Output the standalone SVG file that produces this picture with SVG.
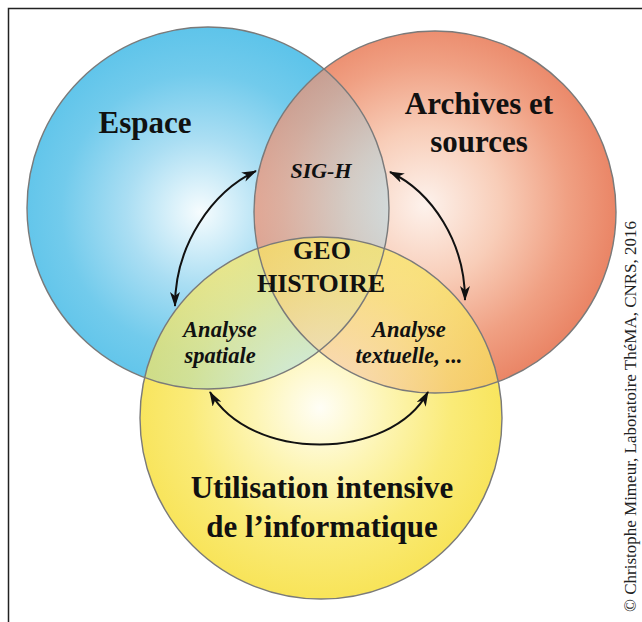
<svg xmlns="http://www.w3.org/2000/svg" width="642" height="622" viewBox="0 0 642 622">
<style>
.lbl{font-family:"Liberation Serif","Times New Roman",serif;font-weight:bold;fill:#111;text-anchor:middle}
.big{font-size:31px}
.mid{font-size:26px}
.it{font-style:italic;font-size:22.5px}
.edge{fill:none;stroke:#7a7a7a;stroke-width:1.4}
.conn{fill:none;stroke:#111;stroke-width:2}
</style>
<defs>
<radialGradient id="gB" gradientUnits="userSpaceOnUse" cx="200" cy="212" r="185">
<stop offset="0" stop-color="#f6fcfe"/>
<stop offset="0.4" stop-color="#aadef3"/>
<stop offset="0.75" stop-color="#72cbec"/>
<stop offset="1" stop-color="#5ec4ea"/>
</radialGradient>
<radialGradient id="gR" gradientUnits="userSpaceOnUse" cx="425" cy="205" r="190">
<stop offset="0" stop-color="#fdf2ec"/>
<stop offset="0.4" stop-color="#f8cdb8"/>
<stop offset="0.75" stop-color="#f0a083"/>
<stop offset="1" stop-color="#ea8667"/>
</radialGradient>
<radialGradient id="gY" gradientUnits="userSpaceOnUse" cx="320" cy="408" r="188">
<stop offset="0" stop-color="#fffef6"/>
<stop offset="0.35" stop-color="#fdf5b4"/>
<stop offset="0.7" stop-color="#faeb78"/>
<stop offset="1" stop-color="#f8e45a"/>
</radialGradient>
<clipPath id="clipB"><circle cx="208" cy="208" r="181"/></clipPath>
<clipPath id="clipBR"><circle cx="208" cy="208" r="181"/><circle cx="435" cy="212" r="181"/></clipPath>
<mask id="notB" maskUnits="userSpaceOnUse" x="0" y="0" width="642" height="622">
<rect width="642" height="622" fill="#fff"/><circle cx="208" cy="208" r="181" fill="#000"/>
</mask>
<mask id="notBR" maskUnits="userSpaceOnUse" x="0" y="0" width="642" height="622">
<rect width="642" height="622" fill="#fff"/><circle cx="208" cy="208" r="181" fill="#000"/><circle cx="435" cy="212" r="181" fill="#000"/>
</mask>
<marker id="ah" viewBox="0 0 15 10" refX="14" refY="5" markerWidth="15" markerHeight="10" markerUnits="userSpaceOnUse" orient="auto-start-reverse">
<path d="M0,0 L15,5 L0,10 L4,5 Z" fill="#111"/>
</marker>
</defs>
<rect x="8.5" y="8.5" width="650" height="630" fill="#fff" stroke="#222" stroke-width="1.5"/>
<g id="espace">
<circle cx="208" cy="208" r="181" fill="url(#gB)"/>
</g>
<g id="archives">
<circle cx="435" cy="212" r="181" fill="url(#gR)" mask="url(#notB)"/>
<circle cx="435" cy="212" r="181" fill="url(#gR)" opacity="0.74" clip-path="url(#clipB)"/>
</g>
<g id="informatique">
<circle cx="321" cy="418" r="181" fill="url(#gY)" mask="url(#notBR)"/>
<circle cx="321" cy="418" r="181" fill="url(#gY)" opacity="0.72" clip-path="url(#clipBR)"/>
</g>
<g id="outlines">
<circle class="edge" cx="208" cy="208" r="181"/>
<circle class="edge" cx="435" cy="212" r="181"/>
<circle class="edge" cx="321" cy="418" r="181"/>
</g>
<g id="connectors">
<path class="conn" d="M256,171 C212,192 175,245 175,306" marker-start="url(#ah)" marker-end="url(#ah)"/>
<path class="conn" d="M390,172 C432,192 465,242 465,300" marker-start="url(#ah)" marker-end="url(#ah)"/>
<path class="conn" d="M210,392 C250,462 390,462 428,392" marker-start="url(#ah)" marker-end="url(#ah)"/>
</g>
<g id="labels-main">
<text class="lbl big" x="145" y="133">Espace</text>
<text class="lbl big" x="479" y="114">Archives et</text>
<text class="lbl big" x="479" y="152">sources</text>
<text class="lbl big" x="322" y="498">Utilisation intensive</text>
<text class="lbl big" x="322" y="537">de l’informatique</text>
</g>
<g id="labels-center">
<text class="lbl it" x="321" y="178" style="font-size:22px">SIG-H</text>
<text class="lbl mid" x="322" y="259">GEO</text>
<text class="lbl mid" x="321" y="292">HISTOIRE</text>
<text class="lbl it" x="220" y="337">Analyse</text>
<text class="lbl it" x="220" y="363">spatiale</text>
<text class="lbl it" x="409" y="337">Analyse</text>
<text class="lbl it" x="409" y="363">textuelle, ...</text>
</g>
<text x="0" y="0" transform="translate(636,612) rotate(-90)" style="font-family:'Liberation Serif','Times New Roman',serif;font-size:17px;fill:#222">© Christophe Mimeur, Laboratoire ThéMA, CNRS, 2016</text>
</svg>
